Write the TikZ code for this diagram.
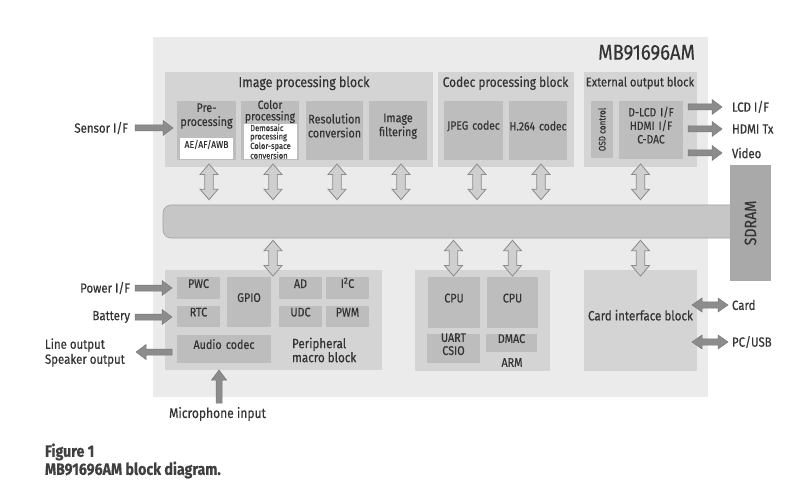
\documentclass[tikz,border=0pt]{standalone}
\usepackage{fontspec}
\setmainfont{Fira Sans}[FakeStretch=0.86, FakeBold=0.35]
\usetikzlibrary{calc,fit}
\definecolor{chipbg}{HTML}{EBEBEB}
\definecolor{blkc}{HTML}{D4D4D4}
\definecolor{innc}{HTML}{BDBDBD}
\definecolor{sdc}{HTML}{A9A9A9}
\definecolor{busc}{HTML}{C6C6C6}
\definecolor{busedge}{HTML}{A2A2A2}
\definecolor{txt}{HTML}{333333}
\definecolor{darkarr}{HTML}{8C8C8C}
\definecolor{darkarredge}{HTML}{777777}
\definecolor{lightarr}{HTML}{CFCFCF}
\definecolor{lightarredge}{HTML}{8A8A8A}
\newcommand\myfs[1]{\fontsize{#1}{1.2\dimexpr #1pt\relax}\selectfont}
\newcommand\myfsb[2]{\fontsize{#1}{#2}\selectfont}
\tikzset{
  fatone/.style n args={3}{to path={
    ($(\tikztostart)!#1!90:(\tikztotarget)$)
    -- ($($(\tikztotarget)!#3!(\tikztostart)$)!#1!90:(\tikztotarget)$)
    -- ($($(\tikztotarget)!#3!(\tikztostart)$)!#2!90:(\tikztotarget)$)
    -- (\tikztotarget)
    -- ($($(\tikztotarget)!#3!(\tikztostart)$)!#2!-90:(\tikztotarget)$)
    -- ($($(\tikztotarget)!#3!(\tikztostart)$)!#1!-90:(\tikztotarget)$)
    -- ($(\tikztostart)!#1!-90:(\tikztotarget)$) -- cycle}},
  fattwo/.style n args={3}{to path={
    (\tikztostart)
    -- ($($(\tikztostart)!#3!(\tikztotarget)$)!#2!90:(\tikztotarget)$)
    -- ($($(\tikztostart)!#3!(\tikztotarget)$)!#1!90:(\tikztotarget)$)
    -- ($($(\tikztotarget)!#3!(\tikztostart)$)!#1!90:(\tikztotarget)$)
    -- ($($(\tikztotarget)!#3!(\tikztostart)$)!#2!90:(\tikztotarget)$)
    -- (\tikztotarget)
    -- ($($(\tikztotarget)!#3!(\tikztostart)$)!#2!-90:(\tikztotarget)$)
    -- ($($(\tikztotarget)!#3!(\tikztostart)$)!#1!-90:(\tikztotarget)$)
    -- ($($(\tikztostart)!#3!(\tikztotarget)$)!#1!-90:(\tikztotarget)$)
    -- ($($(\tikztostart)!#3!(\tikztotarget)$)!#2!-90:(\tikztotarget)$)
    -- cycle}},
  sarrow/.style={fatone={3pt}{7.5pt}{10pt}, fill=darkarr, draw=darkarredge, line width=0.5pt},
  varrow/.style={fattwo={4.2pt}{9pt}{10.5pt}, fill=lightarr, draw=lightarredge, line width=0.8pt},
  harrow/.style={fattwo={3.2pt}{7pt}{10pt}, fill=darkarr, draw=darkarredge, line width=0.5pt},
  area/.style={fill=#1, inner sep=0pt, outer sep=0pt, text=txt},
  wbox/.style={fill=white, inner sep=0pt, outer sep=0pt, text=txt},
  lbl/.style={text=txt, inner sep=0pt, outer sep=0pt},
  ttl/.style={lbl, font=\myfs{14.4}},
  bx/.style={font=\myfs{12.5}, align=center},
  ext/.style={lbl, font=\myfs{13.3}},
}
\begin{document}
\begin{tikzpicture}[x=1pt,y=-1pt]
\useasboundingbox (0,0) rectangle (800,489);
\fill[white] (0,0) rectangle (800,489);

% chip
\node[area=chipbg, fit={(153,37)(708,397)}] (chip) {};
\node[lbl, anchor=east, font=\myfs{21.5}] (chipname) at (695,52.5) {MB91696AM};

% top blocks
\node[area=blkc, fit={(165,72)(433,167)}] (img) {};
\node[area=blkc, fit={(438,72)(574,167)}] (codec) {};
\node[area=blkc, fit={(584,72)(697,167)}] (ext) {};
\node[ttl] (imgt) at (304,83) {Image processing block};
\node[ttl, font=\myfs{13.8}] (codect) at (505.5,83) {Codec processing block};
\node[ttl, font=\myfs{12.9}] (extt) at (640,83) {External output block};

\node[area=innc, fit={(177,101)(236,160)}] (pre) {};
\node[lbl, bx] (pret) at (206.5,116) {Pre-\\[-1pt]processing};
\node[wbox, fit={(180,138)(233,159)}, font=\myfs{10}] (aeaf) {AE/AF/AWB};

\node[area=innc, fit={(241,101)(299,160)}] (color) {};
\node[lbl, bx, font=\myfsb{12}{11.5}] (colort) at (270,111.5) {Color\\processing};
\node[wbox, fit={(244,124)(297,159)}] (demo) {};
\node[lbl, align=left, font=\myfsb{8.8}{8.4}] (demot) at (270.5,141.5) {Demosaic\\processing\\Color-space\\conversion};

\node[area=innc, fit={(306,101)(363,160)}, bx] (res) {Resolution\\[-1pt]conversion};
\node[area=innc, fit={(369,101)(427,160)}, bx] (filt) {Image\\[-1pt]filtering};

\node[area=innc, fit={(444,101)(503,160)}, bx, font=\myfs{12}] (jpeg) {JPEG codec};
\node[area=innc, fit={(509,101)(567,160)}, bx, font=\myfs{12}] (h264) {H.264 codec};

\node[area=innc, fit={(591,101)(613,158)}] (osd) {};
\node[lbl, rotate=90, font=\myfs{9.4}] (osdt) at (602,129.5) {OSD control};
\node[area=innc, fit={(619,101)(683,159)}, bx, font=\myfsb{12}{13.5}] (dlcd) {D-LCD I/F\\HDMI I/F\\C-DAC};

% bus and SDRAM
\node[fill=busc, draw=busedge, line width=0.6pt, rounded corners=8pt, inner sep=0pt, fit={(163,205)(745,238)}] (bus) {};
\node[area=sdc, fit={(730,165)(771,281)}] (sdram) {};
\node[lbl, rotate=90, font=\myfs{16.5}] (sdramt) at (sdram.center) {SDRAM};

% lower blocks
\node[area=blkc, fit={(165,270)(382,370)}] (periph) {};
\node[area=innc, fit={(177,277)(220,299)}, bx] (pwc) {PWC};
\node[area=innc, fit={(177,306)(220,327)}, bx] (rtc) {RTC};
\node[area=innc, fit={(227,277)(271,327)}, bx] (gpio) {GPIO};
\node[area=innc, fit={(279,277)(322,299)}, bx] (ad) {AD};
\node[area=innc, fit={(326,277)(369,299)}, bx] (i2c) {I\textsuperscript{2}C};
\node[area=innc, fit={(279,306)(322,327)}, bx] (udc) {UDC};
\node[area=innc, fit={(326,306)(369,327)}, bx] (pwm) {PWM};
\node[area=innc, fit={(177,335)(271,363)}, bx] (audio) {Audio codec};
\node[lbl, anchor=west, align=left, font=\myfsb{13.5}{14}] (periphT) at (292,350) {Peripheral\\macro block};

\node[area=blkc, fit={(415,270)(550,371)}] (cpublk) {};
\node[area=innc, fit={(428,277)(480,328)}, bx] (cpu1) {CPU};
\node[area=innc, fit={(487,277)(538,328)}, bx] (cpu2) {CPU};
\node[area=innc, fit={(427,334)(480,363)}, bx, font=\myfsb{12.5}{13}] (uart) {UART\\CSIO};
\node[area=innc, fit={(486,334)(537,352)}, bx] (dmac) {DMAC};
\node[lbl, font=\myfs{12.5}] (arm) at (512,362.5) {ARM};

\node[area=blkc, fit={(584,270)(697,371)}, font=\myfs{13.5}] (card) {Card interface block};

% external labels
\node[ext, anchor=east] (sensor) at (128,128) {Sensor I/F};
\node[ext, anchor=west] (lcd) at (732,107) {LCD I/F};
\node[ext, anchor=west] (hdmi) at (732,129) {HDMI Tx};
\node[ext, anchor=west] (video) at (732,153) {Video};
\node[ext, anchor=east] (power) at (130,288) {Power I/F};
\node[ext, anchor=east] (battery) at (130,317) {Battery};
\node[ext, anchor=west, align=left, font=\myfsb{13.3}{15}] (lineout) at (45,352.5) {Line output\\Speaker output};
\node[ext, font=\myfs{14}] (mic) at (217.5,414) {Microphone input};
\node[ext, anchor=west] (cardl) at (732,305) {Card};
\node[ext, anchor=west] (pcusb) at (732,342) {PC/USB};

\node[lbl, anchor=west, align=left, font={\myfsb{16.5}{16.5}\bfseries}, text=black!75] (caption) at (45,461) {Figure 1\\MB91696AM block diagram.};

% arrow endpoints
\coordinate (sensA) at (135,128);
\coordinate (sensB) at (sensA -| pre.west); \coordinate (sensB2) at ($(sensB)+(-4,0)$);
\coordinate (lcdA) at ($(lcd.west -| dlcd.east)+(5,0)$);   \coordinate (lcdB) at ($(lcd.west)+(-10,0)$);
\coordinate (hdmiA) at ($(hdmi.west -| dlcd.east)+(5,0)$); \coordinate (hdmiB) at ($(hdmi.west)+(-10,0)$);
\coordinate (vidA) at ($(video.west -| dlcd.east)+(5,0)$); \coordinate (vidB) at ($(video.west)+(-10,0)$);
\coordinate (powA) at (135,288); \coordinate (powB) at ($(powA -| pwc.west)+(-5,0)$);
\coordinate (batA) at (135,317); \coordinate (batB) at ($(batA -| rtc.west)+(-5,0)$);
\coordinate (loA) at ($(audio.west)+(-5,3)$); \coordinate (loB) at (136,352);
\coordinate (micA) at (219,403); \coordinate (micB) at (micA |- periph.south);
\coordinate (cardA) at ($(cardl.west)+(-40,0)$); \coordinate (cardB) at ($(cardl.west)+(-4,0)$);
\coordinate (pcA) at ($(pcusb.west)+(-40,0)$); \coordinate (pcB) at ($(pcusb.west)+(-4,0)$);

\draw[sarrow] (sensA) to (sensB2);
\draw[sarrow] (lcdA) to (lcdB);
\draw[sarrow] (hdmiA) to (hdmiB);
\draw[sarrow] (vidA) to (vidB);
\draw[sarrow] (powA) to (powB);
\draw[sarrow] (batA) to (batB);
\draw[sarrow] (loA) to (loB);
\draw[sarrow] (micA) to (micB);
\draw[harrow] (cardA) to (cardB);
\draw[harrow] (pcA) to (pcB);

% vertical bus arrows
\foreach \n/\x in {t1/209,t2/273,t3/337,t4/401,t5/477,t6/541,t7/640.5}{
  \coordinate (\n a) at ($(\x,0 |- img.south)+(0,-3)$);
  \coordinate (\n b) at ($(\x,0 |- bus.north)+(0,-5)$);
  \draw[varrow] (\n a) to (\n b);
}
\foreach \n/\x in {b1/273,b2/453.5,b3/512.5,b4/640.5}{
  \coordinate (\n a) at ($(\x,0 |- bus.south)+(0,2)$);
  \coordinate (\n b) at ($(\x,0 |- periph.north)+(0,6)$);
  \draw[varrow] (\n a) to (\n b);
}
\end{tikzpicture}
\end{document}
